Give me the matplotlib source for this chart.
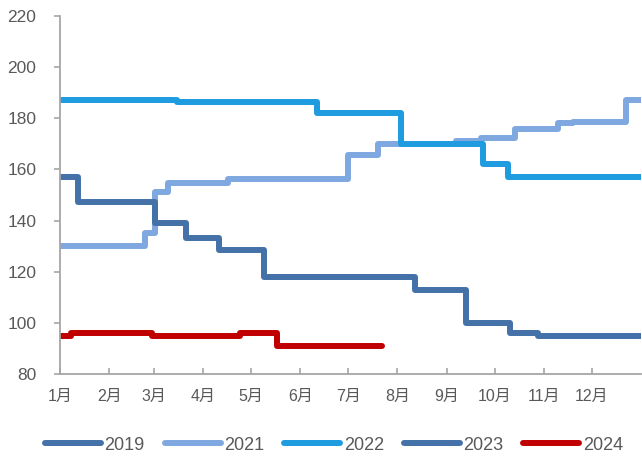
import matplotlib
matplotlib.use("Agg")
import matplotlib.pyplot as plt

plt.rcParams['font.family'] = ['Liberation Sans', 'Noto Sans CJK SC', 'DejaVu Sans']

# Month starts (day of year) and labels
month_starts = [0, 31, 59, 90, 120, 151, 181, 212, 243, 273, 304, 334]
month_labels = ['1月', '2月', '3月', '4月', '5月', '6月', '7月', '8月', '9月', '10月', '11月', '12月']

# Step series: day of year where the level changes, and the level from that day on
days_2019 = []
vals_2019 = []

days_2021 = [0, 53.4, 59.7, 68, 105.5, 181, 200, 249, 264.5, 286, 313, 322, 355.6, 365]
vals_2021 = [130.2, 135, 151, 154.7, 156.3, 165.8, 170, 171, 172.2, 176, 178, 178.5, 187, 187]

days_2022 = [0, 73.5, 161.5, 214, 266, 281.5, 365]
vals_2022 = [187.1, 186.4, 182.0, 170.1, 162.0, 156.9, 156.9]

days_2023 = [0, 11.3, 59.7, 79, 100, 128, 223, 255, 283, 300, 365]
vals_2023 = [157.0, 147.3, 139.0, 133.2, 128.3, 117.8, 112.9, 99.8, 96.2, 94.8, 94.8]

days_2024 = [0, 7.2, 57.8, 113, 136.3, 202]
vals_2024 = [94.7, 96.1, 94.7, 96.1, 91.1, 91.1]

series = [
    ('2019', days_2019, vals_2019, '#4472A8'),
    ('2021', days_2021, vals_2021, '#7EA8DF'),
    ('2022', days_2022, vals_2022, '#1F9BE0'),
    ('2023', days_2023, vals_2023, '#4472A8'),
    ('2024', days_2024, vals_2024, '#C00000'),
]

W, H = 642, 457
fig = plt.figure(figsize=(W / 100, H / 100), dpi=100)
ax = fig.add_axes([60 / W, 1 - 374 / H, (641 - 60) / W, (374 - 16) / H])

for name, d, v, c in series:
    ax.plot(d, v, drawstyle='steps-post', color=c, lw=4.3, label=name,
            solid_capstyle='round', solid_joinstyle='round')

ax.set_xlim(0, 365)
ax.set_ylim(80, 220)
ax.set_yticks(range(80, 221, 20))
ax.set_xticks(month_starts)
ax.set_xticklabels(month_labels)

for side in ('top', 'right'):
    ax.spines[side].set_visible(False)
for side in ('left', 'bottom'):
    ax.spines[side].set_color('#A6A6A6')
    ax.spines[side].set_linewidth(1.3)

ax.tick_params(axis='y', direction='out', length=4, width=1.2, color='#A6A6A6',
               labelsize=12.5, labelcolor='#595959', pad=13)
ax.tick_params(axis='x', direction='in', length=4, width=1.2, color='#A6A6A6',
               labelsize=11.5, labelcolor='#595959', pad=11)

fig.legend(loc='center', bbox_to_anchor=(334 / W, 1 - 445 / H), ncol=5, frameon=False,
           fontsize=13, labelcolor='#595959', handlelength=3.1, handletextpad=0.2,
           columnspacing=1.1)

fig.savefig('out.png', dpi=100)
